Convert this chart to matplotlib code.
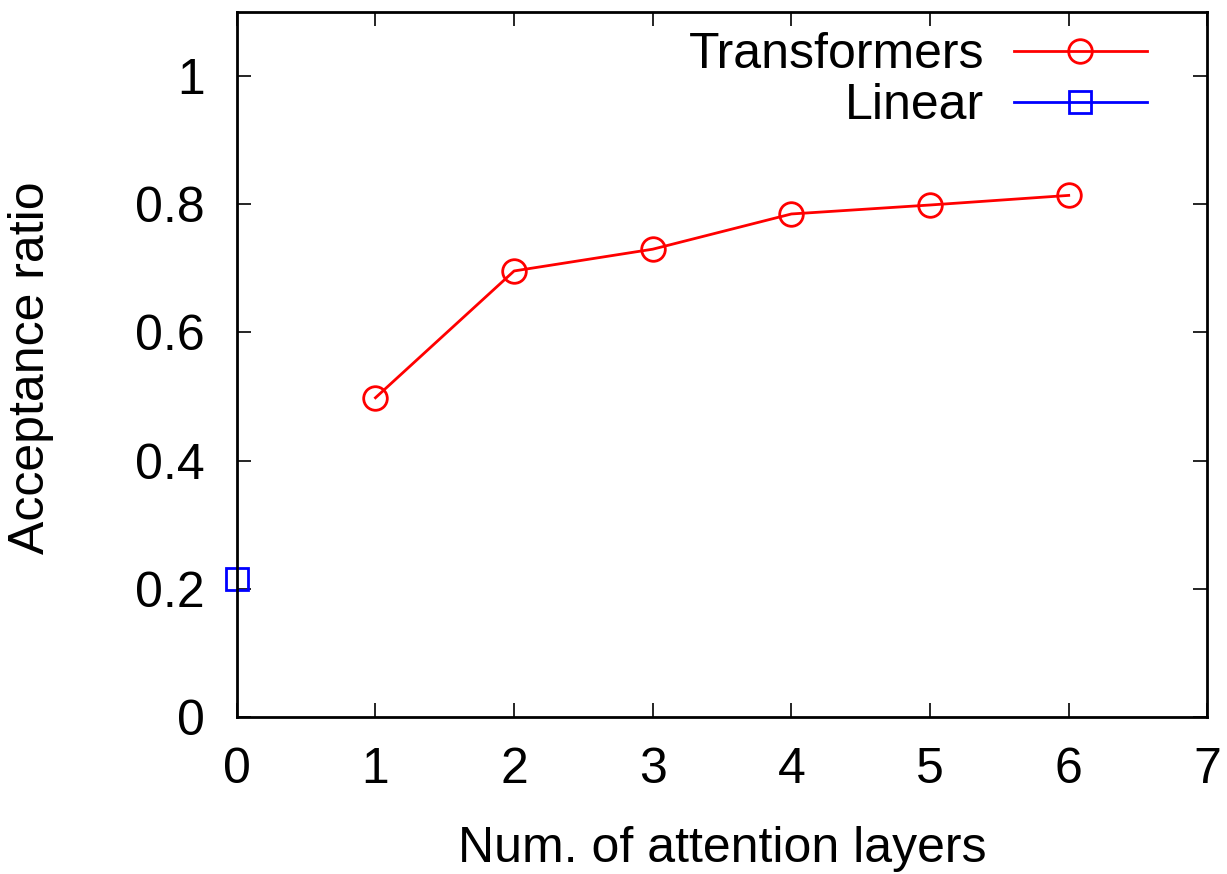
import matplotlib
matplotlib.use("Agg")
import matplotlib.pyplot as plt
from matplotlib.ticker import FuncFormatter

# ====================================

layers = [1, 2, 3, 4, 5, 6]
transformers = [0.498, 0.696, 0.730, 0.785, 0.799, 0.814]

linear_x = [0]
linear_y = [0.215]

x_ticks = [0, 1, 2, 3, 4, 5, 6, 7]
y_ticks = [0, 0.2, 0.4, 0.6, 0.8, 1.0]

# ====================================

plt.rcParams["font.family"] = ["Liberation Sans", "DejaVu Sans"]

fig = plt.figure(figsize=(12.27, 8.74), dpi=100)
ax = fig.add_axes([0.193, 0.180, 0.791, 0.806])

ax.plot(layers, transformers,
        color="#ff0000", linewidth=2.0,
        marker="o", markersize=17, markerfacecolor="none",
        markeredgewidth=2.0, markeredgecolor="#ff0000",
        label="Transformers")

ax.plot(linear_x, linear_y,
        color="#0000ff", linewidth=2.0,
        marker="s", markersize=16, markerfacecolor="none",
        markeredgewidth=2.0, markeredgecolor="#0000ff",
        label="Linear", clip_on=False)

ax.set_xlim(0, 7)
ax.set_ylim(0, 1.1)
ax.set_xticks(x_ticks)
ax.set_yticks(y_ticks)
ax.yaxis.set_major_formatter(FuncFormatter(lambda v, p: f"{v:g}"))

ax.tick_params(direction="in", length=10, width=1.2,
               top=True, right=True, labelsize=36)
ax.tick_params(axis="x", pad=22)
ax.tick_params(axis="y", pad=23)
for s in ax.spines.values():
    s.set_linewidth(2)

ax.set_xlabel("Num. of attention layers", fontsize=36)
ax.set_ylabel("Acceptance ratio", fontsize=36)
ax.xaxis.set_label_coords(0.5, -0.155)
ax.yaxis.set_label_coords(-0.188, 0.495)

ax.legend(loc="upper right", frameon=False, markerfirst=False,
          fontsize=36, handlelength=2.65, labelspacing=0.1,
          borderaxespad=0.0, handletextpad=0.6,
          bbox_to_anchor=(0.958, 1.0))

fig.savefig("out.png", dpi=100)
